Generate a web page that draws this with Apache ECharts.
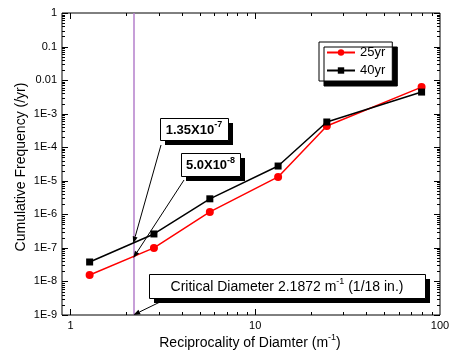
<!DOCTYPE html>
<html><head><meta charset="utf-8">
<script src="https://cdn.jsdelivr.net/npm/echarts@6/dist/echarts.min.js"></script>
<style>html,body{margin:0;padding:0;background:#fff}#c{width:449px;height:356px}</style>
</head><body><div id="c"></div>
<script>
// ---- data ----
const xValues = [1.27, 2.83, 5.68, 13.3, 24.4, 79.5];
const freq25 = [1.56e-8, 1.0e-7, 1.18e-6, 1.3e-5, 4.3e-4, 6.2e-3];
const freq40 = [3.8e-8, 2.6e-7, 2.9e-6, 2.75e-5, 5.65e-4, 4.4e-3];
const seriesNames = ['25yr', '40yr'];
const xTickValues = [1, 10, 100];
const xTickLabels = ['1', '10', '100'];
const yTickValues = [1, 0.1, 0.01, 1e-3, 1e-4, 1e-5, 1e-6, 1e-7, 1e-8, 1e-9];
const yTickLabels = ['1', '0.1', '0.01', '1E-3', '1E-4', '1E-5', '1E-6', '1E-7', '1E-8', '1E-9'];
const criticalX = 2.1872;
const note40 = 1.35e-7;
const note25 = 5.0e-8;
const xMin = 0.9, xMax = 100, yMin = 1e-9, yMax = 1;

// ---- helpers ----
const FF = "'Liberation Sans', Arial, Helvetica, sans-serif";
const mctx = document.createElement('canvas').getContext('2d');
function tw(t, f) { mctx.font = f; return mctx.measureText(t).width; }

const xMinor = [], yMinor = [];
[0.1, 1, 10].forEach(d => { for (let k = 2; k <= 9; k++) { const v = k * d; if (v > xMin && v < xMax) xMinor.push(v); } });
for (let e = -9; e < 0; e++) for (let k = 2; k <= 9; k++) yMinor.push(k * Math.pow(10, e));

function renderAxes(params, api) {
  const cs = params.coordSys;
  const L = cs.x, T = cs.y, R = cs.x + cs.width, B = cs.y + cs.height;
  const ch = [];
  const st = { stroke: '#000', lineWidth: 1 };
  function ln(x1, y1, x2, y2) { ch.push({ type: 'line', shape: { x1, y1, x2, y2 }, style: st }); }
  function vx(v) { return Math.round(api.coord([v, 1e-5])[0]) + 0.5; }
  function vy(v) { return Math.round(api.coord([2, v])[1]) + 0.5; }
  xTickValues.forEach((v, i) => {
    const px = vx(v);
    if (px < R) { ln(px, B, px, B - 6); ln(px, T, px, T + 6); }
    ch.push({ type: 'text', x: api.coord([v, 1e-5])[0], y: B + 5,
      style: { text: xTickLabels[i], font: '11px ' + FF, fill: '#000', align: 'center', verticalAlign: 'top' } });
  });
  xMinor.forEach(v => { const px = vx(v); ln(px, B, px, B - 3); ln(px, T, px, T + 3); });
  yTickValues.forEach((v, i) => {
    const py = vy(v);
    ln(L, py, L + 6, py); ln(R, py, R - 6, py);
    ch.push({ type: 'text', x: L - 5, y: api.coord([2, v])[1],
      style: { text: yTickLabels[i], font: '11px ' + FF, fill: '#000', align: 'right', verticalAlign: 'middle' } });
  });
  yMinor.forEach(v => { const py = vy(v); ln(L, py, L + 3, py); ln(R, py, R - 3, py); });
  return { type: 'group', children: ch };
}

// arrows: start positions (layout, px) and data targets
const arrowStarts = [[161, 145], [184, 180], [160, 302]];
const arrowTargets = [[criticalX, note40], [criticalX, note25], [criticalX, yMin]];
function renderArrow(params, api) {
  const i = params.dataIndex;
  const s = arrowStarts[i];
  const p = api.coord([api.value(0), api.value(1)]);
  let dx = p[0] - s[0], dy = p[1] - s[1];
  const len = Math.sqrt(dx * dx + dy * dy); dx /= len; dy /= len;
  const hl = 7, hw = 2.5;
  const bx = p[0] - dx * hl, by = p[1] - dy * hl;
  return { type: 'group', children: [
    { type: 'line', shape: { x1: s[0], y1: s[1], x2: bx, y2: by }, style: { stroke: '#000', lineWidth: 1 } },
    { type: 'polygon', shape: { points: [[p[0], p[1]], [bx - dy * hw, by + dx * hw], [bx + dy * hw, by - dx * hw]] }, style: { fill: '#000' } }
  ] };
}

function noteBox(x, y, w, h, main, sup, tail, font, supFont) {
  const els = [];
  els.push({ type: 'rect', shape: { x: x + 5, y: y + 5, width: w, height: h }, style: { fill: '#000' }, z: 20 });
  els.push({ type: 'rect', shape: { x: x + 0.5, y: y + 0.5, width: w, height: h }, style: { fill: '#fff', stroke: '#000', lineWidth: 1 }, z: 21 });
  const w1 = tw(main, font), w2 = tw(sup, supFont), w3 = tail ? tw(tail, font) : 0;
  const sx = x + (w - (w1 + w2 + w3)) / 2, cy = y + h / 2 + 1;
  const t = (txt, px, py, f) => ({ type: 'text', x: px, y: py, z: 22,
    style: { text: txt, font: f, fill: '#000', align: 'left', textAlign: 'left', verticalAlign: 'middle', textVerticalAlign: 'middle' } });
  els.push(t(main, sx, cy, font));
  els.push(t(sup, sx + w1, cy - 5, supFont));
  if (tail) els.push(t(tail, sx + w1 + w2, cy, font));
  return els;
}

const titleFont = '14px ' + FF, supF = '9px ' + FF;
const xtMain = 'Reciprocality of Diamter (m', xtSup = '-1', xtTail = ')';
const xtW = tw(xtMain, titleFont) + tw(xtSup, supF) + tw(xtTail, titleFont);
const xtX = 250 - xtW / 2, xtY = 343;

const graphics = [].concat(
  noteBox(160, 118, 68, 22, '1.35X10', '-7', '', 'bold 13px ' + FF, 'bold 9px ' + FF),
  noteBox(181, 153, 59, 23, '5.0X10', '-8', '', 'bold 13px ' + FF, 'bold 9px ' + FF),
  noteBox(149, 274, 276, 24, 'Critical Diameter 2.1872 m', '-1', ' (1/18 in.)', '14px ' + FF, supF),
  [
    { type: 'text', x: 21, y: 167, rotation: Math.PI / 2,
      style: { text: 'Cumulative Frequency (/yr)', font: titleFont, fill: '#000', align: 'center', textAlign: 'center', verticalAlign: 'middle', textVerticalAlign: 'middle' } },
    { type: 'text', x: xtX, y: xtY,
      style: { text: xtMain, font: titleFont, fill: '#000', align: 'left', textAlign: 'left', verticalAlign: 'middle', textVerticalAlign: 'middle' } },
    { type: 'text', x: xtX + tw(xtMain, titleFont), y: xtY - 5,
      style: { text: xtSup, font: supF, fill: '#000', align: 'left', textAlign: 'left', verticalAlign: 'middle', textVerticalAlign: 'middle' } },
    { type: 'text', x: xtX + tw(xtMain, titleFont) + tw(xtSup, supF), y: xtY,
      style: { text: xtTail, font: titleFont, fill: '#000', align: 'left', textAlign: 'left', verticalAlign: 'middle', textVerticalAlign: 'middle' } }
  ]
);

const chart = echarts.init(document.getElementById('c'), null, { renderer: 'canvas' });
chart.setOption({
  animation: false,
  backgroundColor: '#fff',
  grid: { left: 62, top: 13, right: 9, bottom: 41, show: true, borderColor: '#000', borderWidth: 1, backgroundColor: 'transparent' },
  xAxis: { type: 'log', min: xMin, max: xMax, logBase: 10,
    axisLine: { show: false }, axisTick: { show: false }, axisLabel: { show: false }, splitLine: { show: false } },
  yAxis: { type: 'log', min: yMin, max: yMax, logBase: 10,
    axisLine: { show: false }, axisTick: { show: false }, axisLabel: { show: false }, splitLine: { show: false } },
  legend: {
    orient: 'vertical', left: 319, top: 42, itemWidth: 28, itemHeight: 8, itemGap: 5,
    padding: [4, 7, 4, 7], backgroundColor: '#fff', borderColor: '#000', borderWidth: 1,
    shadowColor: '#000', shadowBlur: 0, shadowOffsetX: 5, shadowOffsetY: 5,
    textStyle: { fontSize: 13, fontFamily: FF, color: '#000' }, data: seriesNames, z: 30
  },
  graphic: graphics,
  series: [
    { name: seriesNames[0], type: 'line', data: xValues.map((x, i) => [x, freq25[i]]),
      symbol: 'circle', symbolSize: 8, itemStyle: { color: '#ff0000' }, lineStyle: { color: '#ff0000', width: 1.5 }, z: 5,
      markLine: { silent: true, symbol: ['none', 'none'], label: { show: false },
        lineStyle: { color: '#b57fcb', width: 1.5, type: 'solid' }, data: [{ xAxis: criticalX }] } },
    { name: seriesNames[1], type: 'line', data: xValues.map((x, i) => [x, freq40[i]]),
      symbol: 'rect', symbolSize: 7, itemStyle: { color: '#000' }, lineStyle: { color: '#000', width: 1.5 }, z: 6 },
    { type: 'custom', renderItem: renderAxes, data: [[2, 1e-5]], silent: true, clip: false, z: 8 },
    { type: 'custom', renderItem: renderArrow, data: arrowTargets, silent: true, clip: false, z: 9 }
  ]
});
</script>
</body></html>
